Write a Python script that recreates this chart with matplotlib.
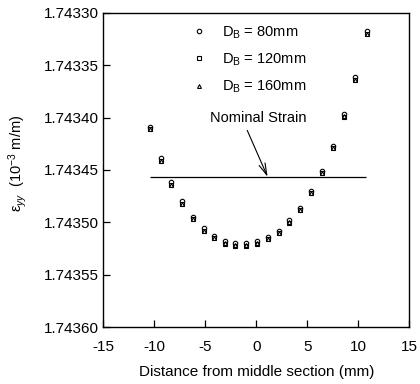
import matplotlib
matplotlib.use("Agg")
import matplotlib.pyplot as plt

plt.rcParams['font.family'] = ['Liberation Sans', 'DejaVu Sans']
plt.rcParams['mathtext.fontset'] = 'custom'
plt.rcParams['mathtext.rm'] = 'Liberation Sans'
plt.rcParams['mathtext.it'] = 'Liberation Sans:italic'
plt.rcParams['axes.unicode_minus'] = False

# Data
distance = [-10.41, -9.33, -8.35, -7.30, -6.26, -5.18, -4.13, -3.05, -2.06, -1.03,
            0.03, 1.11, 2.19, 3.24, 4.25, 5.37, 6.45, 7.53, 8.64, 9.72, 10.81]
strain_80 = [1.7434088, 1.7434388, 1.7434618, 1.7434798, 1.7434948, 1.7435058,
             1.7435128, 1.7435178, 1.7435198, 1.7435198, 1.7435178, 1.7435138,
             1.7435078, 1.7434978, 1.7434858, 1.7434698, 1.7434508, 1.7434268,
             1.7433968, 1.7433618, 1.7433178]
strain_120 = [1.7434112, 1.7434412, 1.7434642, 1.7434822, 1.7434972, 1.7435082,
              1.7435152, 1.7435202, 1.7435222, 1.7435222, 1.7435202, 1.7435162,
              1.7435102, 1.7435002, 1.7434882, 1.7434722, 1.7434532, 1.7434292,
              1.7433992, 1.7433642, 1.7433202]
strain_160 = [1.7434110, 1.7434410, 1.7434640, 1.7434820, 1.7434970, 1.7435080,
              1.7435150, 1.7435200, 1.7435220, 1.7435220, 1.7435200, 1.7435160,
              1.7435100, 1.7435000, 1.7434880, 1.7434720, 1.7434530, 1.7434290,
              1.7433990, 1.7433640, 1.7433200]
labels = [r"D$_\mathrm{B}$ = 80mm", r"D$_\mathrm{B}$ = 120mm", r"D$_\mathrm{B}$ = 160mm"]
nominal_strain = 1.7434565
nominal_range = [-10.4, 10.8]
arrow_tip = (1.1, 1.7434565)
arrow_text = (0.2, 1.7434005)
yticks = [1.74330, 1.74335, 1.74340, 1.74345, 1.74350, 1.74355, 1.74360]
xticks = [-15, -10, -5, 0, 5, 10, 15]

fig = plt.figure(figsize=(4.2, 3.84), dpi=100)
ax = fig.add_axes([0.2464, 0.1477, 0.7281, 0.8193])

ms = 3.2
ax.plot(distance, strain_80, linestyle='none', marker='o', mfc='white', mec='black',
        mew=0.8, ms=ms, label=labels[0])
ax.plot(distance, strain_120, linestyle='none', marker='s', mfc='white', mec='black',
        mew=0.8, ms=ms - 0.3, label=labels[1])
ax.plot(distance, strain_160, linestyle='none', marker='^', mfc='white', mec='black',
        mew=0.8, ms=ms - 0.4, label=labels[2])

ax.hlines(nominal_strain, nominal_range[0], nominal_range[1], color='black', lw=0.9)
ax.annotate("Nominal Strain", xy=arrow_tip, xytext=arrow_text, ha='center', va='center',
            fontsize=10.5,
            arrowprops=dict(arrowstyle='->,head_length=0.8,head_width=0.22', color='black',
                            lw=0.8, shrinkA=2, shrinkB=0, relpos=(0.36, 0.0)))

ax.set_xlim(-15, 15)
ax.set_ylim(1.74360, 1.74330)
ax.set_xticks(xticks)
ax.set_yticks(yticks)
ax.set_yticklabels([f"{v:.5f}" for v in yticks])
ax.tick_params(direction='in', length=5, width=0.9, labelsize=11, top=False, right=False)
ax.tick_params(axis='x', pad=9)
for s in ax.spines.values():
    s.set_linewidth(1.0)

ax.set_xlabel("Distance from middle section (mm)", fontsize=11, labelpad=8)
ax.set_ylabel(r"ε$_{yy}$  (10$^{-3}$ m/m)", fontsize=10.5)
ax.yaxis.set_label_coords(-0.245, 0.52)

ax.legend(loc='upper left', bbox_to_anchor=(0.25, 1.005), frameon=False, fontsize=10.5,
          handlelength=0.8, handletextpad=1.2, labelspacing=0.75, markerscale=1.0)

fig.savefig("out.png", dpi=100)
